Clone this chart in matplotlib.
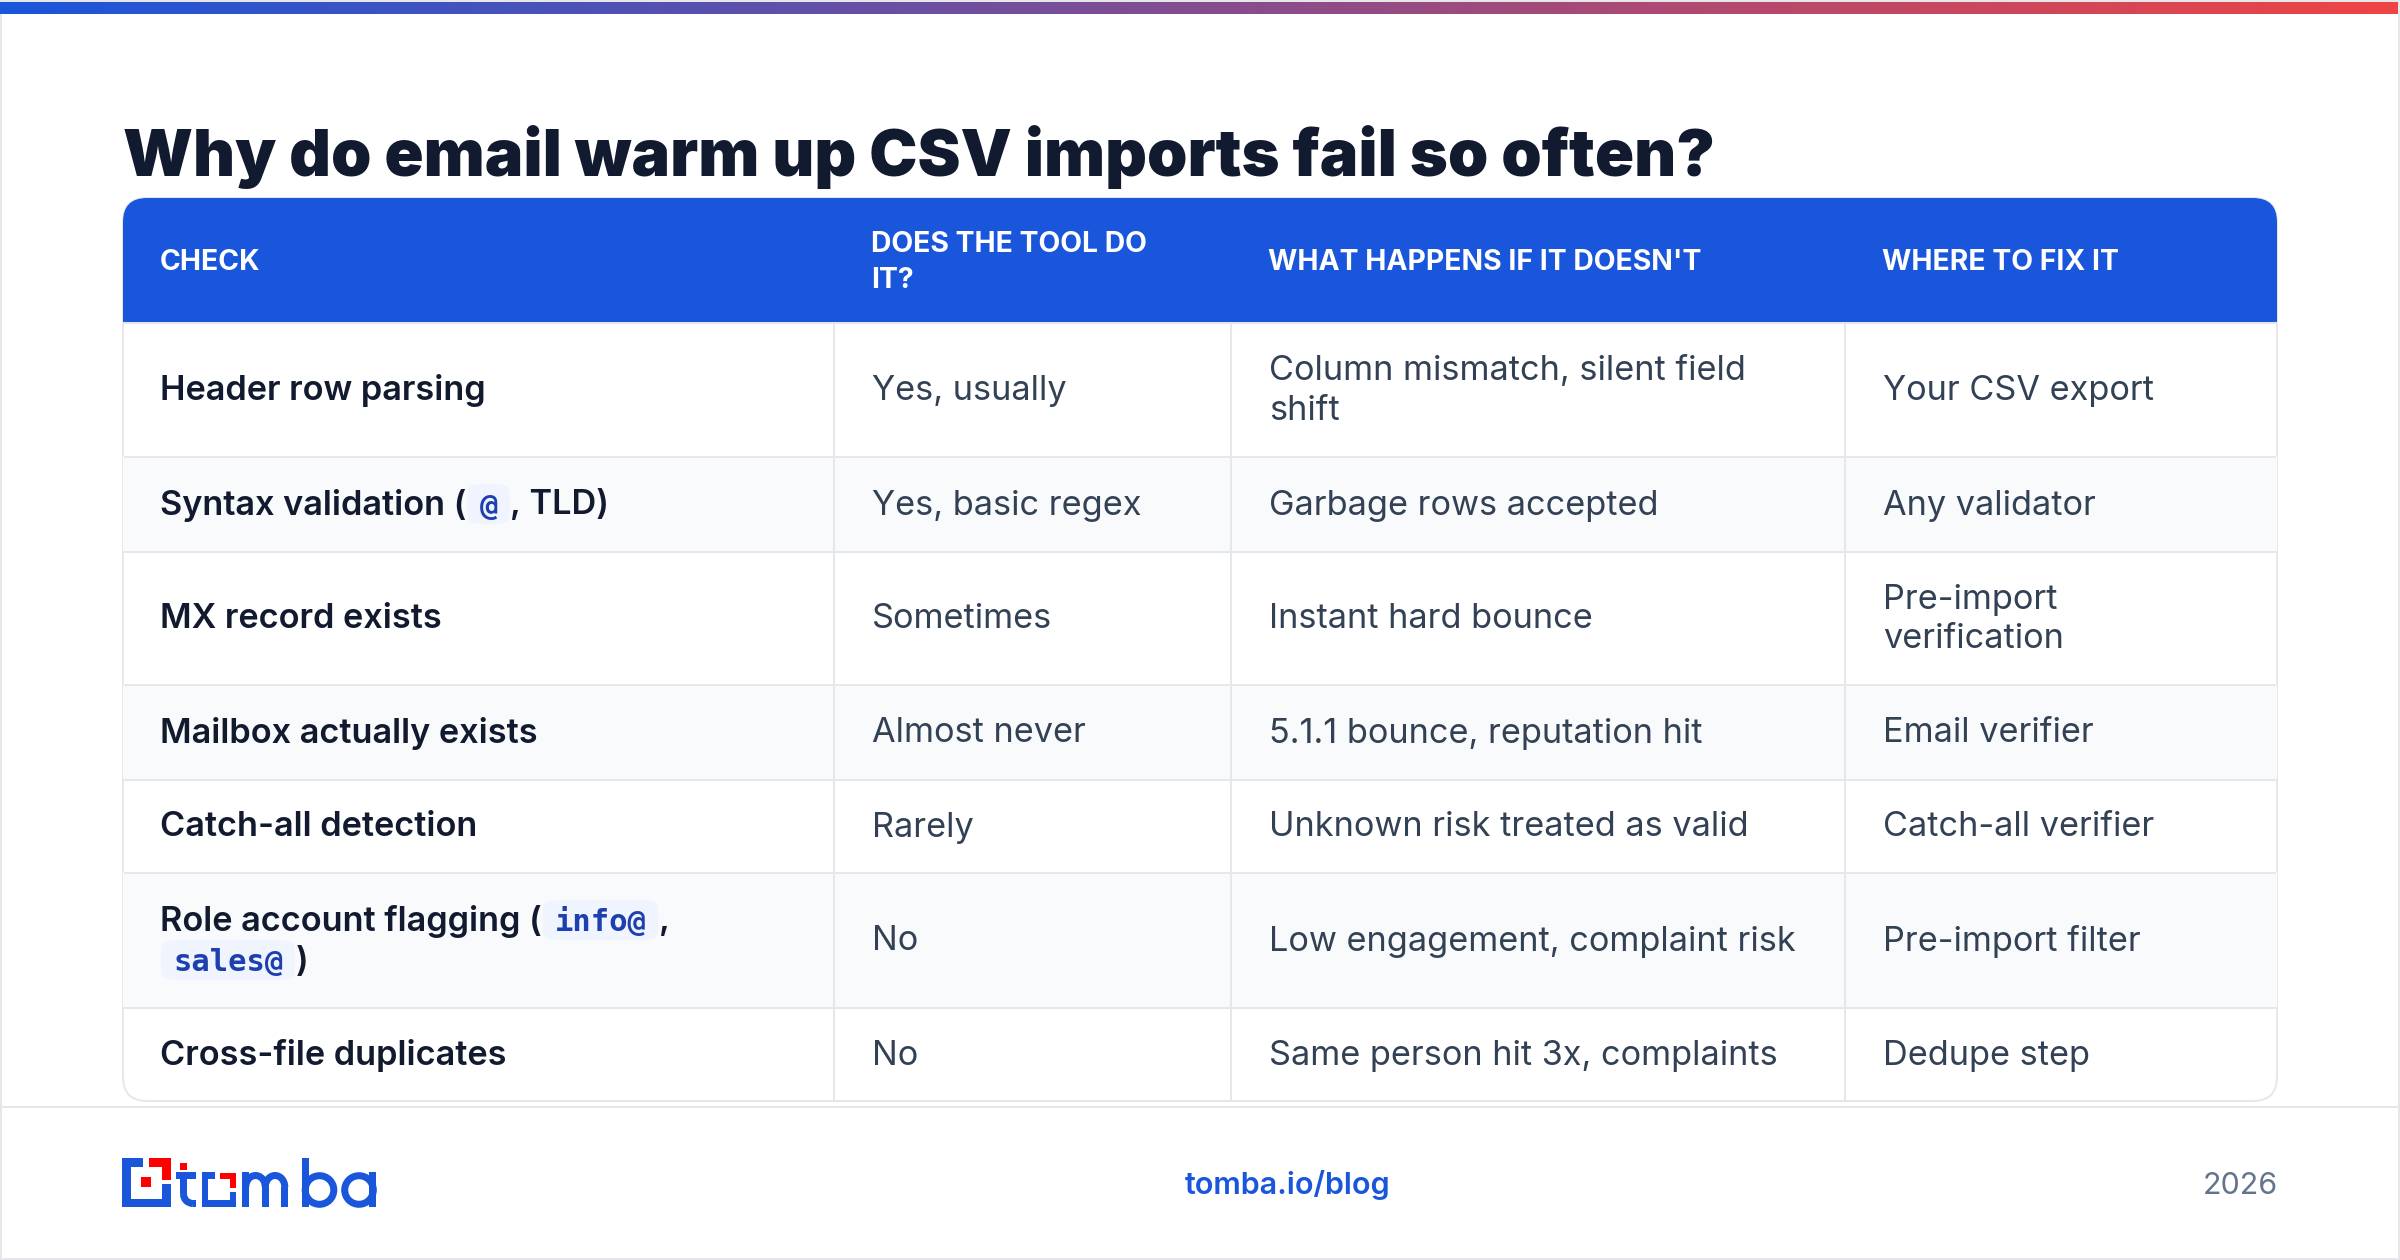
import re
import numpy as np
import matplotlib
matplotlib.use("Agg")
import matplotlib.pyplot as plt
from matplotlib.colors import LinearSegmentedColormap
from matplotlib.patches import Rectangle, FancyBboxPatch, Circle, Arc

title = "Why do email warm up CSV imports fail so often?"
headers = ["CHECK", "DOES THE TOOL DO\nIT?", "WHAT HAPPENS IF IT DOESN'T", "WHERE TO FIX IT"]

# `...` marks the inline code chips
checks = [
    "Header row parsing",
    "Syntax validation (`@`, TLD)",
    "MX record exists",
    "Mailbox actually exists",
    "Catch-all detection",
    "Role account flagging (`info@`,\n`sales@`)",
    "Cross-file duplicates",
]
tool_does = ["Yes, usually", "Yes, basic regex", "Sometimes", "Almost never", "Rarely", "No", "No"]
if_not = [
    "Column mismatch, silent field\nshift",
    "Garbage rows accepted",
    "Instant hard bounce",
    "5.1.1 bounce, reputation hit",
    "Unknown risk treated as valid",
    "Low engagement, complaint risk",
    "Same person hit 3x, complaints",
]
where_fix = [
    "Your CSV export",
    "Any validator",
    "Pre-import\nverification",
    "Email verifier",
    "Catch-all verifier",
    "Pre-import filter",
    "Dedupe step",
]
footer_link = "tomba.io/blog"
footer_year = "2026"

# layout, pixels
W, H = 2400, 1260
col_edges = [123, 834, 1231, 1845, 2277]
row_edges = [198, 322, 456, 551, 684, 779, 872, 1007, 1101]
BLUE = "#1A56DB"
RED = "#FF0000"
LINE = "#E5E7EB"
INK = "#111A2E"
BODY = "#334155"

plt.rcParams["font.family"] = ["Inter", "DejaVu Sans"]

fig = plt.figure(figsize=(W / 100, H / 100), dpi=100, facecolor="white")
ax = fig.add_axes([0, 0, 1, 1])
ax.set_xlim(0, W)
ax.set_ylim(H, 0)
ax.axis("off")
renderer = fig.canvas.get_renderer()


def px(v):
    return v * 0.72


def box(x0, y0, x1, y1, color, **kw):
    ax.add_patch(Rectangle((x0, y0), x1 - x0, y1 - y0, facecolor=color, edgecolor="none", **kw))


def put(x, y, s, size, **kw):
    t = ax.text(x, y, s, fontsize=px(size), va="baseline", **kw)
    return t.get_window_extent(renderer).x1


# outer frame and gradient bar
for r in [(0, 0, 2, H), (W - 2, 0, W, H), (0, H - 2, W, H), (0, 0, W, 2)]:
    box(*r, LINE)
cmap = LinearSegmentedColormap.from_list("bar", [BLUE, "#EF4444"])
ax.imshow(np.linspace(0, 1, 256)[None, :], cmap=cmap, extent=(0, W - 2, 14, 2), aspect="auto", zorder=2)
ax.set_xlim(0, W)
ax.set_ylim(H, 0)

ax.text(123, 176, title, fontsize=px(64.65), fontweight=900, color=INK, va="baseline")

# table
shell = FancyBboxPatch((123, 198), 2154, 903, boxstyle="round,pad=0,rounding_size=24",
                       facecolor="white", edgecolor=LINE, linewidth=px(2), zorder=1)
ax.add_patch(shell)
clip = FancyBboxPatch((123, 198), 2154, 903, boxstyle="round,pad=0,rounding_size=24",
                      facecolor="none", edgecolor="none")
ax.add_patch(clip)

for i in range(len(checks)):
    if i % 2 == 1:
        p = Rectangle((123, row_edges[i + 1]), 2154, row_edges[i + 2] - row_edges[i + 1],
                      facecolor="#F9FAFC", edgecolor="none", zorder=1.1)
        ax.add_patch(p)
        p.set_clip_path(clip)
for y in row_edges[1:-1]:
    box(124, y, 2276, y + 1.6, LINE, zorder=1.2)
for x in col_edges[1:-1]:
    box(x - 0.8, 322, x + 0.8, 1100, LINE, zorder=1.2)
head = Rectangle((123, 198), 2154, 124, facecolor=BLUE, edgecolor="none", zorder=1.3)
ax.add_patch(head)
head.set_clip_path(clip)

HEAD_SIZE = 28.3
for x, h in zip(col_edges, headers):
    lines = h.split("\n")
    top = 260 + 10 - (len(lines) - 1) * 17.5
    for k, line in enumerate(lines):
        put(x + 37, top + k * 35, line, HEAD_SIZE, fontweight="bold", color="white", zorder=3)

BODY_SIZE = 34.3
LINE_H = 40
centers = [(row_edges[i + 1] + row_edges[i + 2]) / 2 for i in range(len(checks))]


def plain_cell(x, cy, s):
    lines = s.split("\n")
    base = cy + 11 - (len(lines) - 1) * LINE_H / 2
    for k, line in enumerate(lines):
        put(x, base + k * LINE_H, line, BODY_SIZE, color=BODY, zorder=3)


def check_cell(x, cy, s):
    lines = s.split("\n")
    base = cy + 11 - (len(lines) - 1) * LINE_H / 2
    for k, line in enumerate(lines):
        cur = x
        y = base + k * LINE_H
        for j, part in enumerate(re.split("`", line)):
            if not part:
                continue
            if j % 2 == 1:
                # code chip
                w = 18.3 * len(part) + 24
                ax.add_patch(FancyBboxPatch((cur + 1, y - 30), w, 39,
                                            boxstyle="round,pad=0,rounding_size=10",
                                            facecolor="#EFF4FF", edgecolor="none", zorder=2))
                put(cur + 13, y, part, 30.5, family="DejaVu Sans Mono", fontweight="bold",
                    color="#1E40AF", zorder=3)
                cur += w + 1.5
            else:
                cur = put(cur, y, part, BODY_SIZE, fontweight="semibold", color=INK, zorder=3)


for i in range(len(checks)):
    check_cell(col_edges[0] + 37, centers[i], checks[i])
    plain_cell(col_edges[1] + 38, centers[i], tool_does[i])
    plain_cell(col_edges[2] + 38, centers[i], if_not[i])
    plain_cell(col_edges[3] + 38, centers[i], where_fix[i])

# footer
box(0, 1106, W, 1108, LINE)
ax.text(1288, 1194, footer_link, fontsize=px(30.5), fontweight="semibold", color=BLUE, ha="center", va="baseline")
ax.text(2278, 1194, footer_year, fontsize=px(30.5), color="#64748B", ha="right", va="baseline")

# logo artwork
STROKE = 7
for r in [(122, 1158, 130.5, 1207), (122, 1158, 143, 1167), (122, 1198.5, 170.7, 1207), (162.3, 1184, 170.7, 1207),
          (202, 1172, 215, 1178.5), (202, 1172, 208, 1207), (202, 1200, 235.7, 1207), (229.7, 1191.5, 235.7, 1207)]:
    box(*r, BLUE, zorder=3)
for r in [(148.7, 1158, 170.7, 1167), (162.3, 1158, 170.7, 1179.5), (141.3, 1177.3, 151.3, 1187),
          (180, 1163.3, 187, 1170), (220, 1172.5, 235.7, 1178.7), (229.7, 1172.5, 235.7, 1187.5)]:
    box(*r, RED, zorder=3)
# t
box(175.7, 1172.3, 195.7, 1178.7, BLUE, zorder=3)
box(180, 1172.3, 187, 1194, BLUE, zorder=3)
box(193, 1200, 195.7, 1207, BLUE, zorder=3)
ax.add_patch(Arc((193, 1194), 19, 19, theta1=90, theta2=180, color=BLUE, lw=px(STROKE), zorder=3))
# m
box(242.3, 1172, 249.3, 1207, BLUE, zorder=3)
box(261.8, 1187, 268.8, 1207, BLUE, zorder=3)
box(281.3, 1187, 288.3, 1207, BLUE, zorder=3)
ax.add_patch(Arc((255.55, 1187), 19.5, 23, theta1=180, theta2=360, color=BLUE, lw=px(STROKE), zorder=3))
ax.add_patch(Arc((275.05, 1187), 19.5, 23, theta1=180, theta2=360, color=BLUE, lw=px(STROKE), zorder=3))
# b
box(301.7, 1158, 308.7, 1207, BLUE, zorder=3)
ax.add_patch(Circle((319.5, 1190), 14.3, fill=False, edgecolor=BLUE, lw=px(STROKE), zorder=3))
# a
ax.add_patch(Circle((359, 1190), 14.3, fill=False, edgecolor=BLUE, lw=px(STROKE), zorder=3))
box(369, 1172, 376, 1207, BLUE, zorder=3)

fig.savefig("out.png", dpi=100)
